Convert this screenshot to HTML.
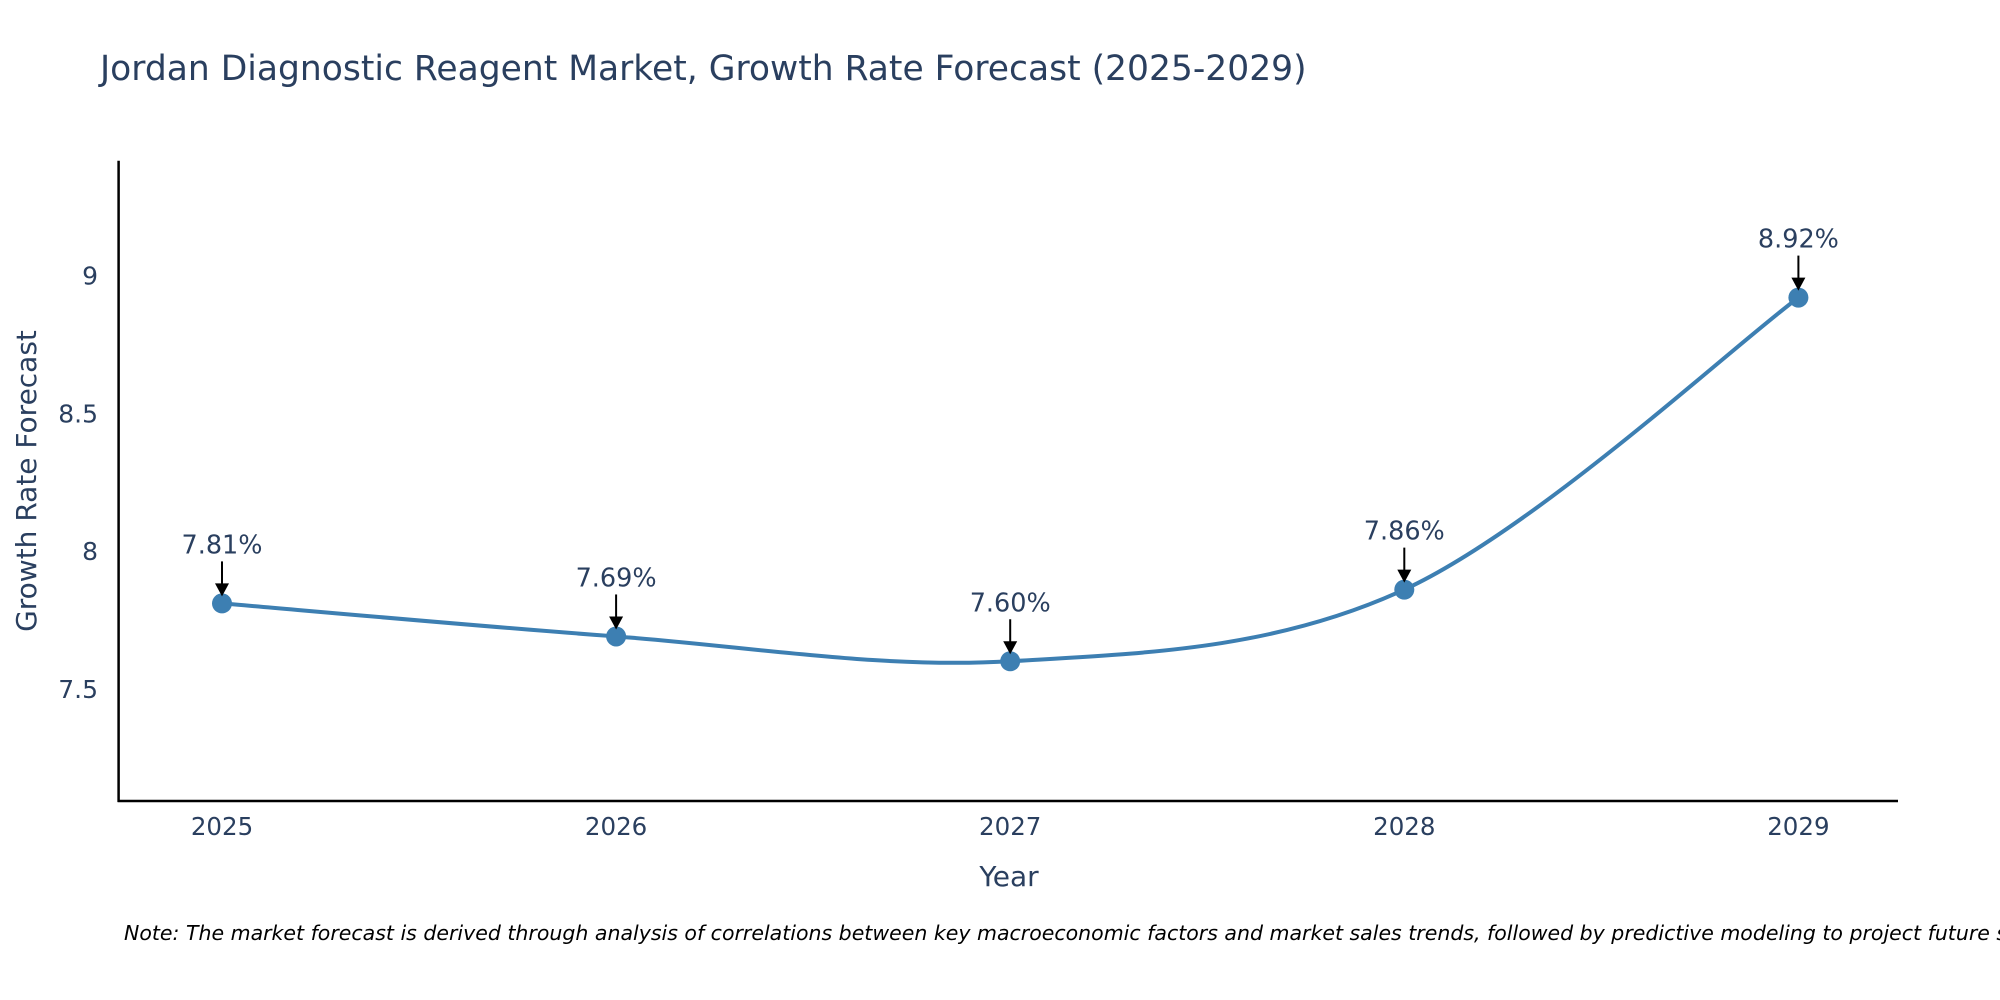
<!DOCTYPE html>
<html><head><meta charset="utf-8"><style>
body{margin:0;background:#fff;}
svg{display:block;font-family:"DejaVu Sans","Liberation Sans",sans-serif;}
</style></head><body>
<svg id="chart" width="2000" height="1000" xmlns="http://www.w3.org/2000/svg">
<text x="100" y="80" font-size="34.5" fill="#2a3f5f">Jordan Diagnostic Reagent Market, Growth Rate Forecast (2025-2029)</text>
<g id="axes"></g>
<g id="series"></g>
<g id="annotations"></g>
<text x="124" y="940" font-size="20.5" font-style="italic" fill="#000">Note: The market forecast is derived through analysis of correlations between key macroeconomic factors and market sales trends, followed by predictive modeling to project future sales.</text>
</svg>
<script>
const years = [2025, 2026, 2027, 2028, 2029];
const rates = [7.81, 7.69, 7.60, 7.86, 8.92];
const labels = ["7.81%", "7.69%", "7.60%", "7.86%", "8.92%"];
const yTicks = [7.5, 8, 8.5, 9];

const NS = "http://www.w3.org/2000/svg";
const L = 118.6, R = 1898, T = 160.7, B = 801;
const x = v => 222 + (v - 2025) * 394.1;
const y = v => 688.8 - (v - 7.5) * 275.5;
function mk(tag, attrs, parent, text) {
  const e = document.createElementNS(NS, tag);
  for (const k in attrs) e.setAttribute(k, attrs[k]);
  if (text !== undefined) e.textContent = text;
  parent.appendChild(e);
  return e;
}
const axes = document.getElementById('axes');
let e;
e = mk('line', {x1: L, y1: T, x2: L, y2: B + 1, stroke: '#000', 'stroke-width': 2.5}, axes);


e = mk('line', {x1: L - 1, y1: B, x2: R, y2: B, stroke: '#000', 'stroke-width': 2.5}, axes);


yTicks.forEach(t => {
  const tx = mk('text', {x: 98, y: y(t) + 9, 'font-size': 25, fill: '#2a3f5f', 'text-anchor': 'end'}, axes, String(t));
  
  
});
years.forEach(t => {
  const tx = mk('text', {x: x(t), y: 835, 'font-size': 24.5, fill: '#2a3f5f', 'text-anchor': 'middle'}, axes, String(t));
  
  
});
e = mk('text', {x: 1009, y: 886, 'font-size': 28, fill: '#2a3f5f', 'text-anchor': 'middle'}, axes, 'Year');


e = mk('text', {x: 0, y: 0, 'font-size': 28, fill: '#2a3f5f', 'text-anchor': 'middle', transform: 'translate(36,481) rotate(-90)'}, axes, 'Growth Rate Forecast');



const pts = years.map((v, i) => [x(v), y(rates[i])]);
let d = 'M' + pts[0][0] + ',' + pts[0][1];
const s = 1 / 6;
for (let i = 0; i < pts.length - 1; i++) {
  const p0 = pts[i - 1] || pts[i], p1 = pts[i], p2 = pts[i + 1], p3 = pts[i + 2] || pts[i + 1];
  const c1 = [p1[0] + (p2[0] - p0[0]) * s, p1[1] + (p2[1] - p0[1]) * s];
  const c2 = [p2[0] - (p3[0] - p1[0]) * s, p2[1] - (p3[1] - p1[1]) * s];
  d += ' C' + c1 + ' ' + c2 + ' ' + p2;
}
const series = document.getElementById('series');
e = mk('path', {d: d, fill: 'none', stroke: '#3d7fb2', 'stroke-width': 4}, series);


pts.forEach(p => {
  const c = mk('circle', {cx: p[0], cy: p[1], r: 10, fill: '#3d7fb2'}, series);
  
  
});
const ann = document.getElementById('annotations');
pts.forEach((p, i) => {
  const l = mk('line', {x1: p[0], y1: p[1] - 42, x2: p[0], y2: p[1] - 18, stroke: '#000', 'stroke-width': 2}, ann);
  
  
  const h = mk('polygon', {points: `${p[0]-7},${p[1]-20} ${p[0]+7},${p[1]-20} ${p[0]},${p[1]-7}`, fill: '#000'}, ann);
  
  
  const t = mk('text', {x: p[0], y: p[1] - 50, 'font-size': 25.5, fill: '#2a3f5f', 'text-anchor': 'middle'}, ann, labels[i]);
  
  
});
</script>
</body></html>
